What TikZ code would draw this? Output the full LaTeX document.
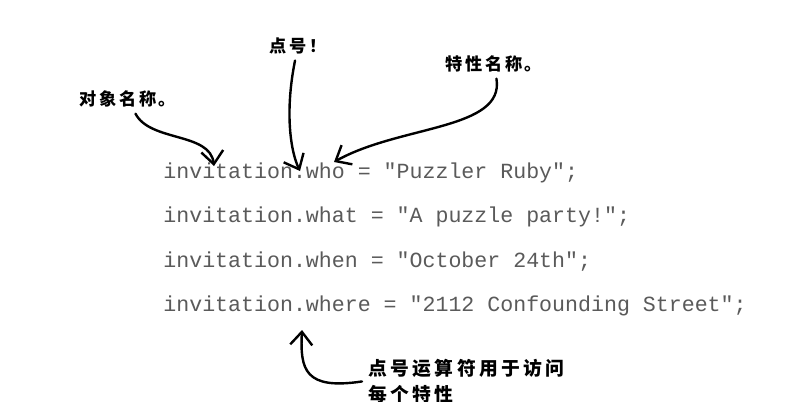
\documentclass[tikz,border=0pt]{standalone}
\usepackage{fontspec}
\usepackage{xcolor}
\usepackage{tikz}
\usetikzlibrary{arrows.meta, positioning}
\setmonofont{Liberation Mono}
\newfontfamily\cjk{Noto Sans CJK SC}[LetterSpace=15]
\newfontfamily\cjkwide{Noto Sans CJK SC}[LetterSpace=18]
\definecolor{codegray}{RGB}{90, 90, 90}

\begin{document}
\begin{tikzpicture}[
    x=0.5pt, y=-0.5pt,
    code/.style={font=\ttfamily\fontsize{10.8}{13}\selectfont, text=codegray, inner sep=0pt, text height=8pt, text depth=2.5pt},
    note/.style={font=\cjk\bfseries\fontsize{8.6}{10}\selectfont, inner sep=3pt},
    arrow/.style={-{Straight Barb[length=6.5pt, width=11pt]}, line width=1.2pt, line cap=round}
]
\path[use as bounding box, fill=white] (0,0) rectangle (804,402);

% code lines
\node[code, anchor=base west] (who) at (163,178) {invitation.who = "Puzzler Ruby";};
\node[code, below right=11.35pt and 0pt of who.south west] (what) {invitation.what = "A puzzle party!";};
\node[code, below right=11.35pt and 0pt of what.south west] (when) {invitation.when = "October 24th";};
\node[code, below right=11.35pt and 0pt of when.south west] (where) {invitation.where = "2112 Confounding Street";};

% notes
\node[note] (objname) at (128,99) {对象名称。};
\node[note] (dotmark) at (298,46) {点号！};
\node[note] (propname) at (494,64) {特性名称。};
\node[note, font=\cjkwide\bfseries\fontsize{9.4}{13}\selectfont, align=left, anchor=north west] (dotop) at (362,353) {点号运算符用于访问\\每个特性};

\coordinate (objtip) at (214,166);
\coordinate (whodot) at (300,171);
\coordinate (whotip) at (334,162);
\coordinate (wheredot) at (302,330);

\draw[arrow] (objname) .. controls (150,142) and (210,132) .. (objtip);
\draw[arrow] (dotmark) .. controls (285,110) and (290,150) .. (whodot);
\draw[arrow] (propname) .. controls (505,130) and (400,125) .. (whotip);
\draw[arrow] (dotop.west) .. controls (305,390) and (300,370) .. (wheredot);

\end{tikzpicture}
\end{document}
